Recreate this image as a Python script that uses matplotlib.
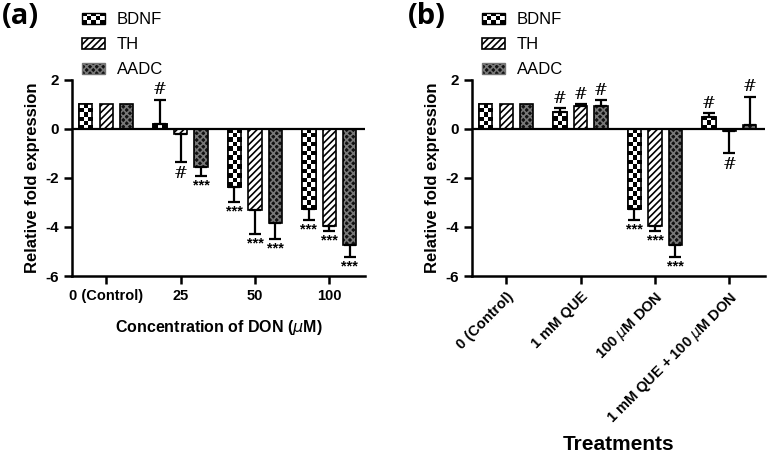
import matplotlib
matplotlib.use("Agg")
import matplotlib.pyplot as plt
import numpy as np
from matplotlib.patches import Rectangle
from matplotlib.legend_handler import HandlerBase

plt.rcParams.update({"font.family": ["Liberation Sans", "DejaVu Sans"],
                     "axes.unicode_minus": False,
                     "hatch.linewidth": 1.2})

genes = ["BDNF", "TH", "AADC"]

# panel (a): DON concentration
conc_labels = ["0 (Control)", "25", "50", "100"]
a_bdnf = [1.0, 0.2, -2.37, -3.27]
a_th = [1.0, -0.22, -3.3, -3.96]
a_aadc = [1.0, -1.55, -3.84, -4.73]
a_bdnf_err = [0, 1.0, 0.61, 0.44]
a_th_err = [0, 1.13, 0.98, 0.2]
a_aadc_err = [0, 0.37, 0.65, 0.49]
a_bdnf_sig = ["", "#", "***", "***"]
a_th_sig = ["", "#", "***", "***"]
a_aadc_sig = ["", "***", "***", "***"]

# panel (b): treatments
treat_labels = ["0 (Control)", "1 mM QUE", "100 $\\mu$M DON", "1 mM QUE + 100 $\\mu$M DON"]
b_bdnf = [1.0, 0.69, -3.27, 0.5]
b_th = [1.0, 0.95, -3.96, -0.08]
b_aadc = [1.0, 0.92, -4.73, 0.18]
b_bdnf_err = [0, 0.16, 0.44, 0.15]
b_th_err = [0, 0.05, 0.2, 0.89]
b_aadc_err = [0, 0.25, 0.49, 1.14]
b_bdnf_sig = ["", "#", "***", "#"]
b_th_sig = ["", "#", "***", "#"]
b_aadc_sig = ["", "#", "***", "#"]

W, H = 767, 454
fig = plt.figure(figsize=(W / 100, H / 100), dpi=100)

def checker(ax, rect, px=4.4):
    x0, y0 = rect.get_x(), rect.get_y()
    x1, y1 = x0 + rect.get_width(), y0 + rect.get_height()
    p0 = ax.transData.transform((x0, y0))
    p1 = ax.transData.transform((x1, y1))
    nx = max(1, int(round(abs(p1[0] - p0[0]) / px)))
    ny = max(1, int(round(abs(p1[1] - p0[1]) / px)))
    img = np.indices((ny, nx)).sum(0) % 2
    im = ax.imshow(img, cmap="gray", extent=(x0, x1, min(y0, y1), max(y0, y1)),
                   origin="lower", interpolation="nearest", aspect="auto", zorder=2)
    im.set_clip_path(rect)

class CheckerHandler(HandlerBase):
    def create_artists(self, legend, orig_handle, xdescent, ydescent, width, height, fontsize, trans):
        arts = []
        nx, ny = 5, 3
        for i in range(nx):
            for j in range(ny):
                if (i + j) % 2 == 0:
                    arts.append(Rectangle((-xdescent + i * width / nx, -ydescent + j * height / ny),
                                          width / nx, height / ny, facecolor="k", lw=0, transform=trans))
        arts.append(Rectangle((-xdescent, -ydescent), width, height, facecolor="none",
                              edgecolor="k", lw=1, transform=trans))
        return arts

def panel(rect, labels, series, errs, sigs, rotate):
    ax = fig.add_axes(rect)
    x = np.arange(len(labels))
    off, bw = 0.275, 0.18
    ax.set_xlim(-0.46, len(labels) - 0.52)
    ax.set_ylim(-6, 2)
    handles = []
    for k, (vals, err, sig) in enumerate(zip(series, errs, sigs)):
        xs = x + (k - 1) * off
        vals = np.array(vals)
        err = np.array(err)
        if k == 0:
            bars = ax.bar(xs, vals, bw, color="white", edgecolor="k", lw=1.2, zorder=1)
            for r in bars:
                checker(ax, r)
            ax.bar(xs, vals, bw, color="none", edgecolor="k", lw=1.2, zorder=3)
            handles.append(Rectangle((0, 0), 1, 1))
        elif k == 1:
            b = ax.bar(xs, vals, bw, color="white", edgecolor="k", lw=1.2, hatch="/////", zorder=3)
            handles.append(b)
        else:
            ax.bar(xs, vals, bw, color="#111111", edgecolor="#777777", lw=0, hatch="xxxxx", zorder=2)
            ax.bar(xs, vals, bw, color="none", edgecolor="k", lw=1.2, zorder=3)
            h = Rectangle((0, 0), 1, 1, facecolor="#111111", edgecolor="#777777", hatch="xxxxx")
            handles.append(h)
        lo = np.where(vals < 0, err, 0)
        hi = np.where(vals >= 0, err, 0)
        m = err > 0
        ax.errorbar(xs[m], vals[m], yerr=[lo[m], hi[m]], fmt="none", ecolor="k",
                    elinewidth=1.6, capsize=4.5, capthick=1.6, zorder=4)
        for xi, v, e, s in zip(xs, vals, err, sig):
            if not s:
                continue
            end = v + e if v >= 0 else v - e
            if s == "#":
                dy = 1 if v >= 0 else -2
                ax.annotate(s, (xi, end), xytext=(0, dy), textcoords="offset points",
                            ha="center", va="bottom" if v >= 0 else "top", fontsize=12,
                            family="DejaVu Serif")
            else:
                ax.annotate(s, (xi, end), xytext=(0, -2), textcoords="offset points",
                            ha="center", va="top", fontsize=10.5, weight="bold")
    ax.axhline(0, color="k", lw=1.6, zorder=5)
    for sp in ["top", "right"]:
        ax.spines[sp].set_visible(False)
    for sp in ["left", "bottom"]:
        ax.spines[sp].set_linewidth(1.8)
    ax.set_yticks([-6, -4, -2, 0, 2])
    ax.set_xticks(x)
    ax.tick_params(width=1.8, length=6, labelsize=11)
    ax.tick_params(axis="x", labelsize=10.5)
    for t in ax.get_yticklabels():
        t.set_fontweight("bold")
    if rotate:
        ax.set_xticklabels(labels, rotation=45, ha="right", rotation_mode="anchor",
                           fontweight="bold")
    else:
        ax.set_xticklabels(labels, fontweight="bold")
    ax.set_ylabel("Relative fold expression", fontsize=12, fontweight="bold", labelpad=4)
    return ax, handles

ax1, h1 = panel([72 / W, 1 - 276 / H, 293 / W, 196 / H], conc_labels,
                [a_bdnf, a_th, a_aadc], [a_bdnf_err, a_th_err, a_aadc_err],
                [a_bdnf_sig, a_th_sig, a_aadc_sig], False)
ax1.set_xlabel("Concentration of DON ($\\mu$M)", fontsize=11.5, fontweight="bold", labelpad=11)

ax2, h2 = panel([472 / W, 1 - 276 / H, 293 / W, 196 / H], treat_labels,
                [b_bdnf, b_th, b_aadc], [b_bdnf_err, b_th_err, b_aadc_err],
                [b_bdnf_sig, b_th_sig, b_aadc_sig], True)
ax2.set_xlabel("Treatments", fontsize=15, fontweight="bold", labelpad=6)

for hs, xpos in [(h1, 82), (h2, 482)]:
    fig.legend(hs, genes, loc="upper left", bbox_to_anchor=(xpos / W, 1 - 12 / H),
               frameon=False, fontsize=12, handlelength=1.35, handleheight=0.65,
               handletextpad=0.75, labelspacing=0.6, borderpad=0, borderaxespad=0,
               handler_map={h1[0]: CheckerHandler(), h2[0]: CheckerHandler()})

fig.text(2 / W, 1 - 2 / H, "(a)", fontsize=21, fontweight="bold", va="top", family="Open Sans")
fig.text(408 / W, 1 - 2 / H, "(b)", fontsize=21, fontweight="bold", va="top", family="Open Sans")

fig.savefig("out.png", dpi=100)
